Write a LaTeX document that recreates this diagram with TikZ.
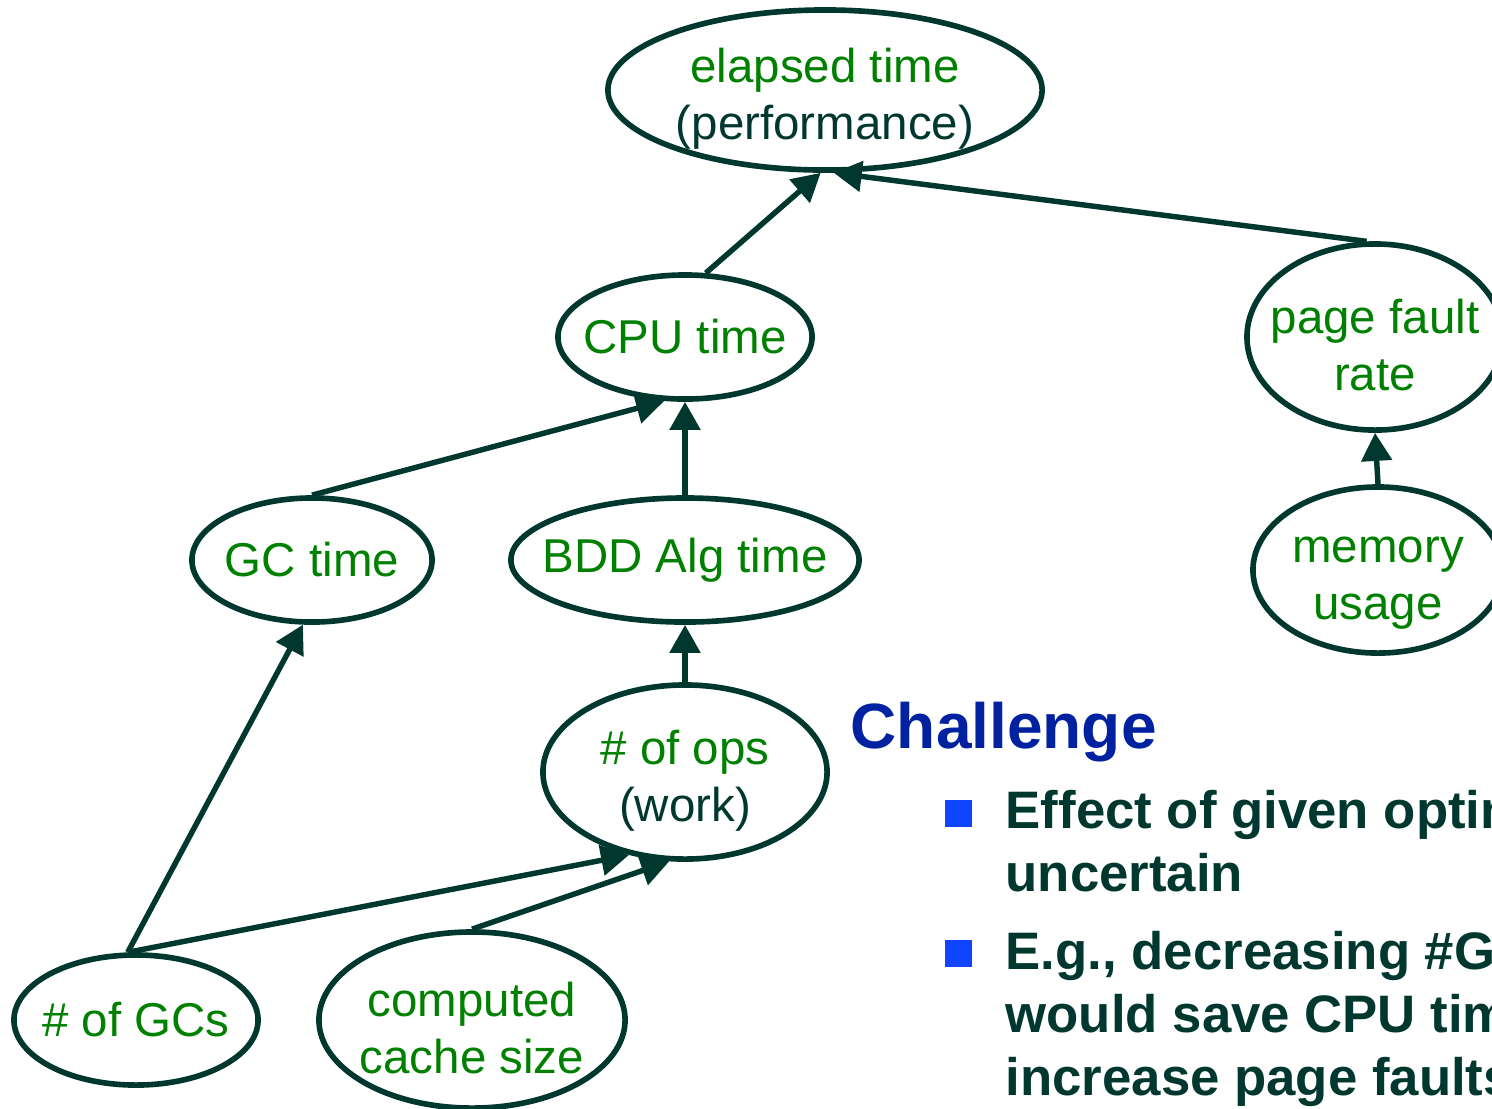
\documentclass[tikz,border=0pt]{standalone}
\usepackage{fontspec}
\setmainfont{Liberation Sans}
\usepackage{tikz}
\usetikzlibrary{arrows.meta, shapes.geometric}

\definecolor{edgedark}{RGB}{0,56,48}
\definecolor{labgreen}{RGB}{0,128,0}
\definecolor{headblue}{RGB}{0,34,160}
\definecolor{bulblue}{RGB}{17,68,255}
\newcommand{\lowr}{\rule{0pt}{14.5pt}}

\begin{document}
\begin{tikzpicture}[x=0.01cm, y=-0.01cm,
    qty/.style={draw=edgedark, ellipse, line width=1.6pt, inner xsep=-1cm, inner ysep=-1cm,
                text=labgreen, align=center, font=\fontsize{13.5}{16.2}\selectfont},
    dep/.style={draw=edgedark, line width=1.55pt, -{Triangle[length=0.28cm, width=0.3cm]}},
    bsq/.style={fill=bulblue, minimum size=0.27cm, inner sep=0pt},
    btext/.style={anchor=base west, text=edgedark, align=left, inner sep=0pt,
                  font=\bfseries\fontsize{15}{17.9}\selectfont}]
            \useasboundingbox (0,0) rectangle (1492,1108);
            \clip (0,0) rectangle (1492,1108);

            % Quantities
            \node[qty, minimum width=4.34cm, minimum height=1.6cm] (et) at (825,90) {\lowr elapsed time\\\textcolor{edgedark}{(performance)}};
            \node[qty, minimum width=2.54cm, minimum height=1.24cm] (cpu) at (685,337) {CPU time};
            \node[qty, minimum width=2.56cm, minimum height=1.86cm] (pfr) at (1375,337) {\lowr page fault\\rate};
            \node[qty, minimum width=2.5cm, minimum height=1.66cm] (mem) at (1378,570) {\lowr memory\\usage};
            \node[qty, minimum width=2.4cm, minimum height=1.24cm] (gct) at (312,560) {GC time};
            \node[qty, minimum width=3.48cm, minimum height=1.24cm] (bdd) at (685,560) {BDD Alg time};
            \node[qty, minimum width=2.84cm, minimum height=1.74cm] (ops) at (685,772) {\lowr\# of ops\\\textcolor{edgedark}{(work)}};
            \node[qty, minimum width=2.44cm, minimum height=1.3cm] (gcs) at (136,1020) {\# of GCs};
            \node[qty, minimum width=3.06cm, minimum height=1.76cm] (cache) at (472,1020) {\lowr computed\\cache size};

            % Dependencies
            \draw[dep] (cpu.72) -- (et.267);
            \draw[dep] (pfr.95) -- (et.276);
            \draw[dep] (gct.north) -- (cpu.252);
            \draw[dep] (bdd.north) -- (cpu.south);
            \draw[dep] (ops.north) -- (bdd.south);
            \draw[dep] (gcs.97) -- (gct.262);
            \draw[dep] (gcs.97) -- (ops.236);
            \draw[dep] (cache.north) -- (ops.260);
            \draw[dep] (mem.north) -- (pfr.south);

            % Challenge text
            \node[anchor=base west, inner sep=0pt, text=headblue, font=\bfseries\fontsize{18.2}{22}\selectfont] (hd) at (850,748) {Challenge};
            \node[bsq] (b1) at (958,813) {};
            \node[btext] (t1) at (1005,891) {Effect of given optimization\\uncertain};
            \node[bsq] (b2) at (958,953) {};
            \node[btext] (t2) at (1005,1095) {E.g., decreasing \#GCs\\would save CPU time\\increase page faults};
        \end{tikzpicture}
\end{document}
